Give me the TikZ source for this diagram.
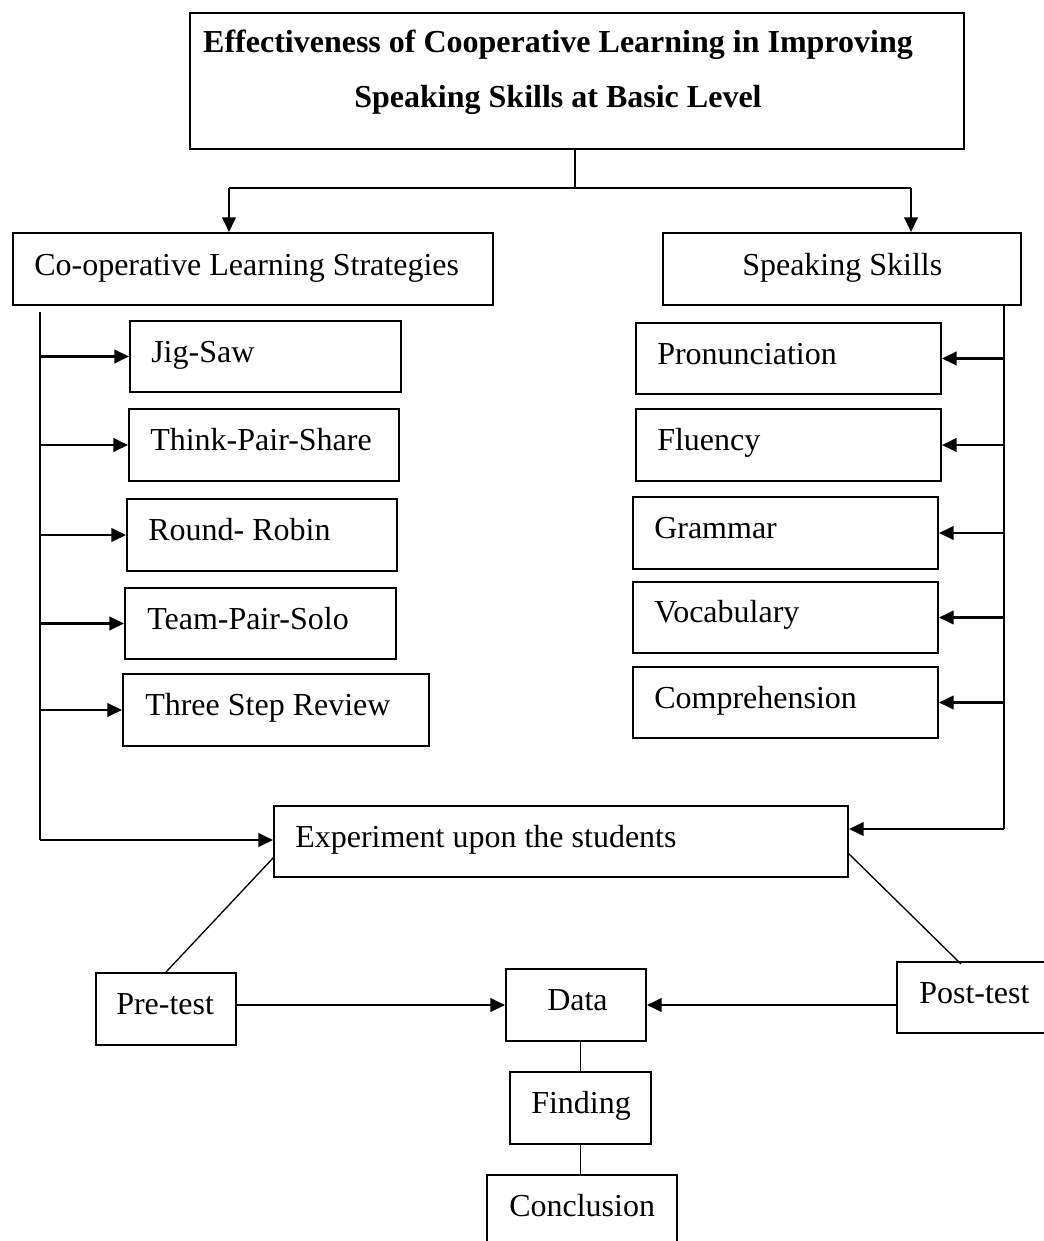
\documentclass[tikz,border=0pt]{standalone}
\usepackage{fontspec}
\setmainfont{Liberation Serif}
\usetikzlibrary{arrows.meta,fit}
\begin{document}
\begin{tikzpicture}[x=0.75pt,y=-0.75pt,
 box/.style={draw, line width=1.4pt, inner sep=0pt},
 txt/.style={anchor=base west, inner sep=0pt, font=\fontsize{24pt}{29pt}\selectfont},
 ttl/.style={anchor=base, inner sep=0pt, font=\fontsize{24pt}{29pt}\selectfont\bfseries},
 arr/.style={line width=2pt, -{Triangle[length=11pt,width=10pt]}},
 ln/.style={line width=1.8pt},
 thinln/.style={line width=1pt}]
\useasboundingbox (0,0) rectangle (1044,1241);

% title
\node[box, fit={(190,13) (964,149)}] (title) {};
\node[ttl] (t1) at (558,53) {Effectiveness of Cooperative Learning in Improving};
\node[ttl] (t2) at (558,108) {Speaking Skills at Basic Level};

% main branches
\node[box, fit={(13,233) (493,305)}] (coop) {};
\node[txt] (coopT) at (34,276) {Co-operative Learning Strategies};
\node[box, fit={(663,233) (1021,305)}] (sp) {};
\node[txt] (spT) at (742,276) {Speaking Skills};

\coordinate (tj) at (575,188);
\coordinate (ja) at (229,188);
\coordinate (jb) at (911,188);
\draw[thinln] (title.south -| tj) -- (tj);
\draw[ln] (ja) -- (jb);
\draw[arr] (ja) -- (ja |- coop.north);
\draw[arr] (jb) -- (jb |- sp.north);

% strategies
\node[box, fit={(130,321) (401,392)}] (jig) {};
\node[txt] (jigT) at (151,362) {Jig-Saw};
\node[box, fit={(129,409) (399,481)}] (tps) {};
\node[txt] (tpsT) at (150,450) {Think-Pair-Share};
\node[box, fit={(127,499) (397,571)}] (rr) {};
\node[txt] (rrT) at (148,540) {Round- Robin};
\node[box, fit={(125,588) (396,659)}] (tpso) {};
\node[txt] (tpsoT) at (147,629) {Team-Pair-Solo};
\node[box, fit={(123,674) (429,746)}] (tsr) {};
\node[txt] (tsrT) at (145,715) {Three Step Review};

% skills
\node[box, fit={(636,323) (941,394)}] (pro) {};
\node[txt] (proT) at (657,364) {Pronunciation};
\node[box, fit={(636,409) (941,481)}] (flu) {};
\node[txt] (fluT) at (657,450) {Fluency};
\node[box, fit={(633,497) (938,569)}] (gra) {};
\node[txt] (graT) at (654,538) {Grammar};
\node[box, fit={(633,582) (938,653)}] (voc) {};
\node[txt] (vocT) at (654,622) {Vocabulary};
\node[box, fit={(633,667) (938,738)}] (com) {};
\node[txt] (comT) at (654,708) {Comprehension};

% experiment
\node[box, fit={(274,806) (848,877)}] (exp) {};
\node[txt] (expT) at (295,847) {Experiment upon the students};

% left spine
\coordinate (lvtop) at (40,312);
\coordinate (lvbot) at (40,840);
\draw[ln] (lvtop) -- (lvbot);
\draw[arr] (lvtop |- jig.west) -- (jig.west);
\draw[arr] (lvtop |- tps.west) -- (tps.west);
\draw[arr] (lvtop |- rr.west) -- (rr.west);
\draw[arr] (lvtop |- tpso.west) -- (tpso.west);
\draw[arr] (lvtop |- tsr.west) -- (tsr.west);
\draw[arr] (lvbot) -- (exp.west |- lvbot);

% right spine
\coordinate (rvtop) at (1004,305);
\coordinate (rvbot) at (1004,829);
\draw[ln] (rvtop) -- (rvbot);
\draw[arr] (rvtop |- pro.east) -- (pro.east);
\draw[arr] (rvtop |- flu.east) -- (flu.east);
\draw[arr] (rvtop |- gra.east) -- (gra.east);
\draw[arr] (rvtop |- voc.east) -- (voc.east);
\draw[arr] (rvtop |- com.east) -- (com.east);
\draw[arr] (rvbot) -- (exp.east |- rvbot);

% tests
\node[box, fit={(96,973) (236,1045)}] (pre) {};
\node[txt] (preT) at (116,1014) {Pre-test};
\node[box, fit={(506,969) (646,1041)}] (data) {};
\node[txt] (dataT) at (547,1010) {Data};
\node[box, fit={(897,962) (1052,1033)}] (post) {};
\node[txt] (postT) at (919,1003) {Post-test};
\node[box, fit={(510,1072) (651,1144)}] (find) {};
\node[txt] (findT) at (531,1113) {Finding};
\node[box, fit={(487,1175) (677,1252)}] (conc) {};
\node[txt] (concT) at (509,1216) {Conclusion};

\coordinate (e1) at (274,857);
\coordinate (e2) at (848,853);
\coordinate (p2) at (961,964);
\draw[thinln] (pre.north) -- (e1);
\draw[thinln] (e2) -- (p2);

\draw[arr] (pre.east |- data.west) -- (data.west);
\draw[arr] (post.west |- data.east) -- (data.east);
\draw[thinln] (find.north) -- (find.north |- data.south);
\draw[thinln] (find.south) -- (find.south |- conc.north);
\end{tikzpicture}
\end{document}
